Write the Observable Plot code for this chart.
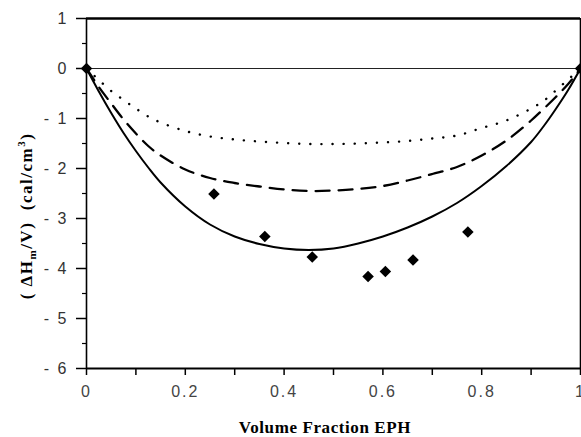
<!DOCTYPE html>
<html><head><meta charset="utf-8">
<script src="https://cdn.jsdelivr.net/npm/d3@7"></script>
<script src="https://cdn.jsdelivr.net/npm/@observablehq/plot@0.6"></script>
<style>body{margin:0;background:#fff}</style>
</head><body><div id="chart"></div>
<script>
// Curves
const curveX  = [0, 0.025, 0.05, 0.075, 0.1, 0.125, 0.15, 0.2, 0.25, 0.3, 0.35, 0.4, 0.45, 0.5, 0.55, 0.6, 0.65, 0.7, 0.75, 0.8, 0.85, 0.9, 0.925, 0.95, 0.975, 1];
const solidY  = [0, -0.46, -0.89, -1.29, -1.65, -1.98, -2.28, -2.76, -3.12, -3.36, -3.51, -3.60, -3.63, -3.60, -3.50, -3.36, -3.18, -2.96, -2.69, -2.35, -1.95, -1.47, -1.16, -0.81, -0.43, 0];
const dashedY = [0, -0.37, -0.70, -1.02, -1.30, -1.55, -1.74, -2.02, -2.19, -2.29, -2.36, -2.42, -2.45, -2.44, -2.41, -2.35, -2.24, -2.11, -1.97, -1.74, -1.44, -1.04, -0.81, -0.57, -0.31, 0];
const dottedY = [0, -0.23, -0.45, -0.63, -0.80, -0.96, -1.08, -1.25, -1.36, -1.42, -1.46, -1.49, -1.51, -1.51, -1.50, -1.48, -1.45, -1.40, -1.34, -1.19, -1.04, -0.80, -0.65, -0.44, -0.22, 0];
// Experimental points
const expX = [0, 0.258, 0.361, 0.457, 0.570, 0.605, 0.661, 0.772, 1];
const expY = [0, -2.51, -3.36, -3.77, -4.16, -4.06, -3.83, -3.27, 0];
// Axes
const xDomain = [0, 1];
const yDomain = [-6, 1];
const xTicks = [0, 0.2, 0.4, 0.6, 0.8, 1];
const xTickLabels = ["0", "0.2", "0.4", "0.6", "0.8", "1"];
const xMinorTicks = [0.1, 0.3, 0.5, 0.7, 0.9];
const yTicks = [1, 0, -1, -2, -3, -4, -5, -6];
const yTickLabels = ["1", "0", "- 1", "- 2", "- 3", "- 4", "- 5", "- 6"];
const yMinorTicks = [0.5, -0.5, -1.5, -2.5, -3.5, -4.5, -5.5];
const xTitle = "Volume Fraction EPH";

const tickFont = "Liberation Sans, Arial, sans-serif";

const plot = Plot.plot({
  width: 581,
  height: 437,
  marginLeft: 86,
  marginRight: 1,
  marginTop: 18,
  marginBottom: 69,
  style: {background: "white", color: "black"},
  x: {domain: xDomain},
  y: {domain: yDomain},
  marks: [
    Plot.axisY(yMinorTicks, {tickSize: 4, tickFormat: () => "", strokeWidth: 1.2, label: null}),
    Plot.axisY(yTicks, {tickSize: 10, tickPadding: 8, tickFormat: d => yTickLabels[yTicks.indexOf(d)], fontSize: 16, fontFamily: tickFont, fill: "#333", strokeWidth: 1.5, label: null}),
    Plot.axisX(xMinorTicks, {tickSize: 7, tickFormat: () => "", strokeWidth: 1.5, label: null}),
    Plot.axisX(xTicks, {tickSize: 7, tickPadding: 10, tickFormat: d => xTickLabels[xTicks.indexOf(d)], fontSize: 16, fontFamily: tickFont, fill: "#444", strokeWidth: 1.5, label: null}),
    Plot.ruleY([yDomain[1]], {strokeWidth: 2.5}),
    Plot.ruleY([yDomain[0]], {strokeWidth: 2}),
    Plot.ruleX([xDomain[0]], {strokeWidth: 1.6}),
    Plot.ruleX([xDomain[1]], {strokeWidth: 1.6}),
    Plot.ruleY([0], {strokeWidth: 1.2, stroke: "#222"}),
    Plot.line(curveX, {x: curveX, y: dottedY, curve: "catmull-rom", stroke: "black", strokeWidth: 2.4, strokeDasharray: "0.1,11", strokeLinecap: "round"}),
    Plot.line(curveX, {x: curveX, y: dashedY, curve: "catmull-rom", stroke: "black", strokeWidth: 2.3, strokeDasharray: "14,9"}),
    Plot.line(curveX, {x: curveX, y: solidY, curve: "catmull-rom", stroke: "black", strokeWidth: 2}),
    Plot.dot(expX, {x: expX, y: expY, symbol: "diamond2", r: 5.2, fill: "black", stroke: "none"})
  ]
});

document.getElementById("chart").appendChild(plot);
const svg = d3.select(plot);
svg.selectAll('g[aria-label="x-axis tick label"] text, g[aria-label="y-axis tick label"] text')
  .style("letter-spacing", "2px");

svg.append("text")
  .attr("x", 325).attr("y", 433)
  .attr("text-anchor", "middle")
  .style("font-family", "Liberation Serif, Times New Roman, serif")
  .style("font-weight", "bold")
  .style("font-size", "17px")
  .style("letter-spacing", "0.6px")
  .attr("fill", "black")
  .text(xTitle);

const yt = svg.append("text")
  .attr("transform", "translate(32,216) rotate(-90)")
  .attr("text-anchor", "middle")
  .style("font-family", "Liberation Serif, Times New Roman, serif")
  .style("font-weight", "bold")
  .style("font-size", "17px")
  .style("letter-spacing", "1.5px")
  .attr("fill", "black");
yt.append("tspan").text("(\u00a0\u0394H");
yt.append("tspan").attr("font-size", "11px").attr("dy", "4").text("m");
yt.append("tspan").attr("dy", "-4").text("/V)\u00a0\u00a0(cal/cm");
yt.append("tspan").attr("font-size", "11px").attr("dy", "-7").text("3");
yt.append("tspan").attr("dy", "7").text(")");
</script>
</body></html>
